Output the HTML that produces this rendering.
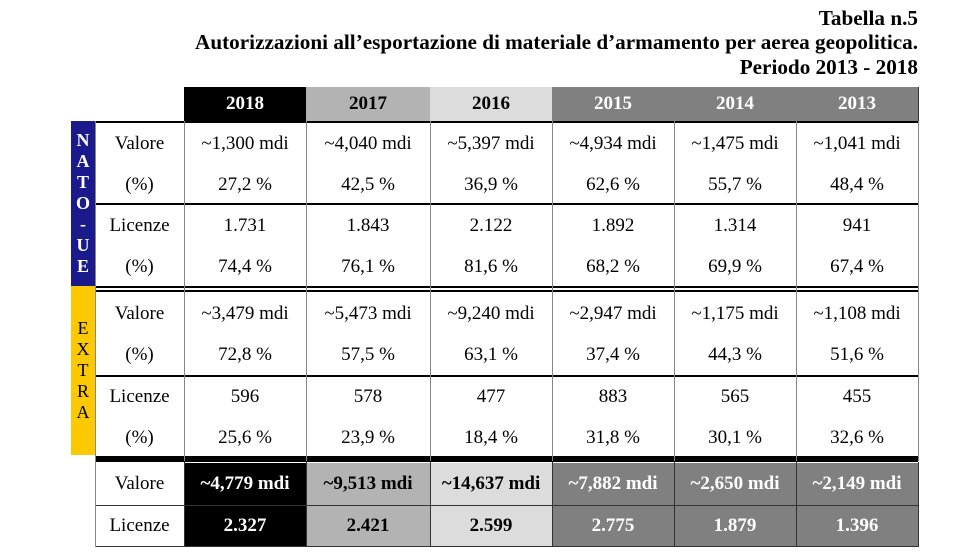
<!DOCTYPE html>
<html><head><meta charset="utf-8">
<style>
body{margin:0;background:#fff;}
#root{position:relative;width:980px;height:555px;overflow:hidden;background:#fff;font-family:"Liberation Serif",serif;color:#000;}
.t{position:absolute;right:62px;font-weight:bold;font-size:21.2px;line-height:24px;white-space:nowrap;}
.c{position:absolute;display:flex;align-items:center;justify-content:center;font-size:19px;box-sizing:border-box;white-space:nowrap;}
.b{font-weight:bold;}
.hl{position:absolute;background:#000;}
.vl{position:absolute;background:#888;width:1px;}
.side{position:absolute;left:71px;width:24px;display:flex;flex-direction:column;align-items:center;justify-content:center;font-size:18px;line-height:21px;}
</style></head><body>
<div id="root">
<div class="t" style="top:6px">Tabella n.5</div>
<div class="t" style="top:30px">Autorizzazioni all’esportazione di materiale d’armamento per aerea geopolitica.</div>
<div class="t" style="top:55px">Periodo 2013 - 2018</div>
<div class="side" style="top:121px;height:165px;background:#1a1a8c;color:#fff;font-weight:bold;"><span>N</span><span>A</span><span>T</span><span>O</span><span>-</span><span>U</span><span>E</span></div>
<div class="side" style="top:286px;height:169px;background:#fcc800;color:#000;"><span>E</span><span>X</span><span>T</span><span>R</span><span>A</span></div>
</div>
<script>
const years=["2018","2017","2016","2015","2014","2013"];
const natoValore=["~1,300 mdi","~4,040 mdi","~5,397 mdi","~4,934 mdi","~1,475 mdi","~1,041 mdi"];
const natoValorePct=["27,2 %","42,5 %","36,9 %","62,6 %","55,7 %","48,4 %"];
const natoLicenze=["1.731","1.843","2.122","1.892","1.314","941"];
const natoLicenzePct=["74,4 %","76,1 %","81,6 %","68,2 %","69,9 %","67,4 %"];
const extraValore=["~3,479 mdi","~5,473 mdi","~9,240 mdi","~2,947 mdi","~1,175 mdi","~1,108 mdi"];
const extraValorePct=["72,8 %","57,5 %","63,1 %","37,4 %","44,3 %","51,6 %"];
const extraLicenze=["596","578","477","883","565","455"];
const extraLicenzePct=["25,6 %","23,9 %","18,4 %","31,8 %","30,1 %","32,6 %"];
const totValore=["~4,779 mdi","~9,513 mdi","~14,637 mdi","~7,882 mdi","~2,650 mdi","~2,149 mdi"];
const totLicenze=["2.327","2.421","2.599","2.775","1.879","1.396"];
const colBg=["#000","#b3b3b3","#dcdcdc","#808080","#808080","#808080"];
const colFg=["#fff","#000","#000","#fff","#fff","#fff"];

const root=document.getElementById('root');
const colX=[184,306,430,552,674,796,918];
function cell(x,y,w,h,text,name,cls,bg,fg){
  const el=document.createElement('div');
  el.className='c '+(cls||'');
  el.style.left=x+'px';el.style.top=y+'px';el.style.width=w+'px';el.style.height=h+'px';
  if(bg)el.style.background=bg;
  if(fg)el.style.color=fg;
  el.textContent=text;
  
  
  root.appendChild(el);
  return el;
}
function line(cls,x,y,w,h,name,color){
  const el=document.createElement('div');
  el.className=cls;
  el.style.left=x+'px';el.style.top=y+'px';el.style.width=w+'px';el.style.height=h+'px';
  if(color)el.style.background=color;
  
  
  root.appendChild(el);
}
years.forEach((y,i)=>{
  cell(colX[i],87,colX[i+1]-colX[i],34,y,'header-'+y,'b',colBg[i],colFg[i]);
});
const rows=[
  [natoValore,natoValorePct,'Valore',123,'nato-valore'],
  [natoLicenze,natoLicenzePct,'Licenze',205,'nato-licenze'],
  [extraValore,extraValorePct,'Valore',293,'extra-valore'],
  [extraLicenze,extraLicenzePct,'Licenze',376,'extra-licenze']
];
rows.forEach(r=>{
  const top=r[3];
  cell(95,top,89,42,r[2],r[4]+'-label');
  cell(95,top+41,89,42,'(%)',r[4]+'-pct-label');
  years.forEach((y,i)=>{
    cell(colX[i],top,colX[i+1]-colX[i],42,r[0][i],r[4]+'-'+y);
    cell(colX[i],top+41,colX[i+1]-colX[i],42,r[1][i],r[4]+'-pct-'+y);
  });
});
cell(95,463,89,42,'Valore','total-valore-label');
cell(95,505,89,41,'Licenze','total-licenze-label');
years.forEach((y,i)=>{
  cell(colX[i],463,colX[i+1]-colX[i],42,totValore[i],'total-valore-'+y,'b',colBg[i],colFg[i]);
  cell(colX[i],505,colX[i+1]-colX[i],41,totLicenze[i],'total-licenze-'+y,'b',colBg[i],colFg[i]);
});
line('hl',95,121,823,2,'rule-top');
line('hl',95,203,823,2,'rule-nato-mid');
line('hl',95,286,823,2,'rule-nato-end-a');
line('hl',95,290,823,2,'rule-nato-end-b');
line('hl',95,375,823,2,'rule-extra-mid');
line('hl',95,456,823,6,'rule-extra-end');
line('hl',95,505,823,1,'rule-total-mid','#333');
line('hl',95,546,823,1,'rule-bottom','#333');
colX.forEach((x,i)=>{
  line('vl',x,121,1,340,'col-divider-'+i);
});
line('vl',95,121,1,425,'col-divider-left');
line('vl',95,462,1,85,'total-divider-left');
colX.forEach((x,i)=>{
  line('vl',x,462,1,85,'total-divider-'+i,'#333');
});
line('vl',918,87,1,34,'header-right-edge','#333');
</script>
</body></html>
